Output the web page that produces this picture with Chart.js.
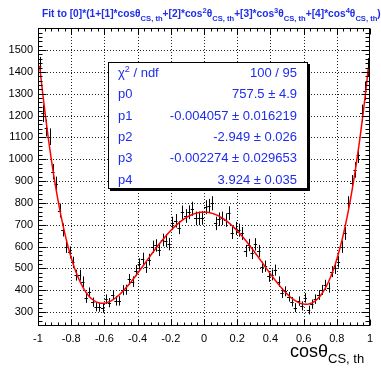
<!DOCTYPE html>
<html><head><meta charset="utf-8">
<script src="https://cdn.jsdelivr.net/npm/chart.js@4.4.0/dist/chart.umd.min.js"></script>
<style>html,body{margin:0;padding:0;background:#fff;overflow:hidden}</style>
</head><body>
<canvas id="c" width="381" height="374" style="display:block;width:381px;height:374px"></canvas>
<script>
// ---- data ----
const binCenters = [-0.99,-0.97,-0.95,-0.93,-0.91,-0.89,-0.87,-0.85,-0.83,-0.81,-0.79,-0.77,-0.75,-0.73,-0.71,-0.69,-0.67,-0.65,-0.63,-0.61,-0.59,-0.57,-0.55,-0.53,-0.51,-0.49,-0.47,-0.45,-0.43,-0.41,-0.39,-0.37,-0.35,-0.33,-0.31,-0.29,-0.27,-0.25,-0.23,-0.21,-0.19,-0.17,-0.15,-0.13,-0.11,-0.09,-0.07,-0.05,-0.03,-0.01,0.01,0.03,0.05,0.07,0.09,0.11,0.13,0.15,0.17,0.19,0.21,0.23,0.25,0.27,0.29,0.31,0.33,0.35,0.37,0.39,0.41,0.43,0.45,0.47,0.49,0.51,0.53,0.55,0.57,0.59,0.61,0.63,0.65,0.67,0.69,0.71,0.73,0.75,0.77,0.79,0.81,0.83,0.85,0.87,0.89,0.91,0.93,0.95,0.97,0.99];
const counts = [1425,1210,1143,1103,943,886,765,676,599,573,527,469,469,439,364,390,345,324,322,317,359,343,378,351,351,400,402,450,439,490,520,545,505,540,599,605,584,630,626,611,706,718,687,756,740,757,773,729,729,731,780,786,798,706,725,729,721,753,664,683,675,660,580,607,570,610,580,505,510,463,470,492,439,387,395,370,347,320,350,328,365,309,336,359,378,401,424,412,485,500,530,599,660,798,893,951,1019,1210,1312,1420];
const binHalfWidth = 0.01;
const errScale = 1.15;
const fitParams = [757.5, -0.004057, -2.949, -0.002274, 3.924];
const statLabels = ['χ² / ndf','p0','p1','p2','p3','p4'];
const statValues = ['100 / 95','757.5 ± 4.9','-0.004057 ± 0.016219','-2.949 ± 0.026','-0.002274 ± 0.029653','3.924 ± 0.035'];
const fitRange = [-0.99, 0.99];
const xTicks = [-1,-0.8,-0.6,-0.4,-0.2,0,0.2,0.4,0.6,0.8,1];
const xTickLabels = ['-1','-0.8','-0.6','-0.4','-0.2','0','0.2','0.4','0.6','0.8','1'];
const yTicks = [300,400,500,600,700,800,900,1000,1100,1200,1300,1400,1500];
const yTickLabels = ['300','400','500','600','700','800','900','1000','1100','1200','1300','1400','1500'];
const xRange = [-1, 1];
const yRange = [236, 1601];

// ---- derived ----
const histPts = binCenters.map((x, i) => ({x: x, y: counts[i]}));
function fitFn(x){ const p=fitParams; return p[0]*(1+p[1]*x+p[2]*x*x+p[3]*x*x*x+p[4]*x*x*x*x); }
const fitPts = [];
for (let k = 0; k <= 198; k++) { const x = fitRange[0] + (fitRange[1]-fitRange[0])*k/198; fitPts.push({x: x, y: fitFn(x)}); }

const FAM = '"Liberation Sans", Arial, Helvetica, sans-serif';
const BLUE = 'rgb(30,45,235)';

function drawRich(ctx, x, y, parts){
  for (const p of parts){ ctx.font = p.f; ctx.fillText(p.t, x, y + (p.dy||0)); x += ctx.measureText(p.t).width; }
  return x;
}

const bgPlugin = { id:'bg', beforeDraw(chart){ const c=chart.ctx; c.save(); c.fillStyle='#fff'; c.fillRect(0,0,chart.width,chart.height); c.restore(); } };

const histPlugin = {
  id:'hist',
  beforeDatasetsDraw(chart){
    const c = chart.ctx, a = chart.chartArea, xs = chart.scales.x, ys = chart.scales.y;
    c.save();
    c.strokeStyle = '#222'; c.lineWidth = 1; c.setLineDash([1,2]);
    xTicks.forEach(v => { if (v<=xRange[0]||v>=xRange[1]) return; const px=Math.round(xs.getPixelForValue(v))+0.5; c.beginPath(); c.moveTo(px,a.top); c.lineTo(px,a.bottom); c.stroke(); });
    yTicks.forEach(v => { const py=Math.round(ys.getPixelForValue(v))+0.5; c.beginPath(); c.moveTo(a.left,py); c.lineTo(a.right,py); c.stroke(); });
    c.setLineDash([]);
    c.beginPath(); c.rect(a.left,a.top,a.right-a.left,a.bottom-a.top); c.clip();
    const meta = chart.getDatasetMeta(1);
    c.strokeStyle = '#000'; c.lineWidth = 1;
    meta.data.forEach((el, i) => {
      const err = Math.sqrt(counts[i]) * errScale;
      const px = Math.round(el.x) + 0.5, py = Math.round(el.y) + 0.5;
      const x1 = xs.getPixelForValue(binCenters[i]-binHalfWidth), x2 = xs.getPixelForValue(binCenters[i]+binHalfWidth);
      const y1 = ys.getPixelForValue(counts[i]-err), y2 = ys.getPixelForValue(counts[i]+err);
      c.beginPath(); c.moveTo(x1,py); c.lineTo(x2,py); c.moveTo(px,y1); c.lineTo(px,y2); c.stroke();
    });
    c.restore();
  },
  afterDatasetsDraw(chart){
    const c = chart.ctx, a = chart.chartArea, xs = chart.scales.x, ys = chart.scales.y;
    c.save();
    c.strokeStyle = '#000'; c.lineWidth = 1;
    const L=Math.round(a.left)+0.5, R=Math.round(a.right)-0.5, T=Math.round(a.top)+0.5, B=Math.round(a.bottom)-0.5;
    c.strokeRect(L,T,R-L,B-T);
    c.beginPath();
    for (let k=0;k<=50;k++){
      const v = xRange[0] + k*0.04; const px = Math.round(xs.getPixelForValue(v))+0.5;
      const len = (k%5===0) ? 6 : 3;
      c.moveTo(px,B); c.lineTo(px,B-len); c.moveTo(px,T); c.lineTo(px,T+len);
    }
    for (let v=240; v<=1600; v+=20){
      const py = Math.round(ys.getPixelForValue(v))+0.5; const len = (v%100===0) ? 8 : 4;
      c.moveTo(L,py); c.lineTo(L+len,py); c.moveTo(R,py); c.lineTo(R-len,py);
    }
    c.stroke();
    c.restore();
  },
  afterDraw(chart){
    const c = chart.ctx;
    c.save();
    const bx=108, by=62, bw=200, bh=127;
    c.fillStyle='#000'; c.fillRect(bx+2,by+2,bw,bh);
    c.fillStyle='#fff'; c.fillRect(bx,by,bw,bh);
    c.strokeStyle='#000'; c.lineWidth=1; c.strokeRect(bx+0.5,by+0.5,bw-1,bh-1);
    c.fillStyle = BLUE; c.textBaseline='middle';
    c.font = '13px '+FAM;
    for (let i=0;i<statLabels.length;i++){
      const y = 73.5 + 21.3*i;
      c.textAlign='left';
      if (i===0){ drawRich(c,118,y,[{t:'χ',f:'13px '+FAM},{t:'2',f:'9px '+FAM,dy:-4},{t:' / ndf',f:'13px '+FAM}]); }
      else c.fillText(statLabels[i],118,y);
      c.textAlign='right'; c.font='13px '+FAM;
      c.fillText(statValues[i],297,y);
    }
    c.textAlign='left'; c.textBaseline='alphabetic'; c.fillStyle=BLUE;
    const M='bold 10.2px '+FAM, S='bold 7.6px '+FAM;
    drawRich(c,42,17,[
      {t:'Fit to [0]*(1+[1]*cosθ',f:M},{t:'CS, th',f:S,dy:4},
      {t:'+[2]*cos',f:M},{t:'2',f:S,dy:-4},{t:'θ',f:M},{t:'CS, th',f:S,dy:4},
      {t:'+[3]*cos',f:M},{t:'3',f:S,dy:-4},{t:'θ',f:M},{t:'CS, th',f:S,dy:4},
      {t:'+[4]*cos',f:M},{t:'4',f:S,dy:-4},{t:'θ',f:M},{t:'CS, th',f:S,dy:4},
      {t:')',f:M}
    ]);
    c.fillStyle='#000';
    drawRich(c,290,357,[{t:'cosθ',f:'18px '+FAM},{t:'CS, th',f:'13px '+FAM,dy:6}]);
    c.restore();
  }
};

new Chart(document.getElementById('c'), {
  type:'scatter',
  data:{ datasets:[
    {label:'fit', type:'line', data:fitPts, borderColor:'#ff0000', borderWidth:1.5, pointRadius:0, fill:false, tension:0, order:0},
    {label:'data', data:histPts, pointRadius:0, pointHoverRadius:0, showLine:false, order:1}
  ]},
  options:{
    responsive:false, animation:false, devicePixelRatio:1, events:[],
    layout:{padding:{left:0,right:11,top:28,bottom:0}},
    plugins:{legend:{display:false}, tooltip:{enabled:false}, title:{display:false}},
    scales:{
      x:{type:'linear', min:xRange[0], max:xRange[1],
        afterBuildTicks:s=>{ s.ticks = xTicks.map(v=>({value:v})); },
        afterFit:s=>{ s.height = 48; },
        ticks:{autoSkip:false, maxRotation:0, minRotation:0, padding:6, color:'#000', font:{family:FAM,size:11}, callback:(v,i)=>xTickLabels[i]},
        grid:{display:false, drawTicks:false}, border:{display:false}},
      y:{type:'linear', min:yRange[0], max:yRange[1],
        afterBuildTicks:s=>{ s.ticks = yTicks.map(v=>({value:v})); },
        afterFit:s=>{ s.width = 38; },
        ticks:{autoSkip:false, padding:5, color:'#000', font:{family:FAM,size:11}, callback:(v,i)=>yTickLabels[i]},
        grid:{display:false, drawTicks:false}, border:{display:false}}
    }
  },
  plugins:[bgPlugin, histPlugin]
});
</script>
</body></html>
